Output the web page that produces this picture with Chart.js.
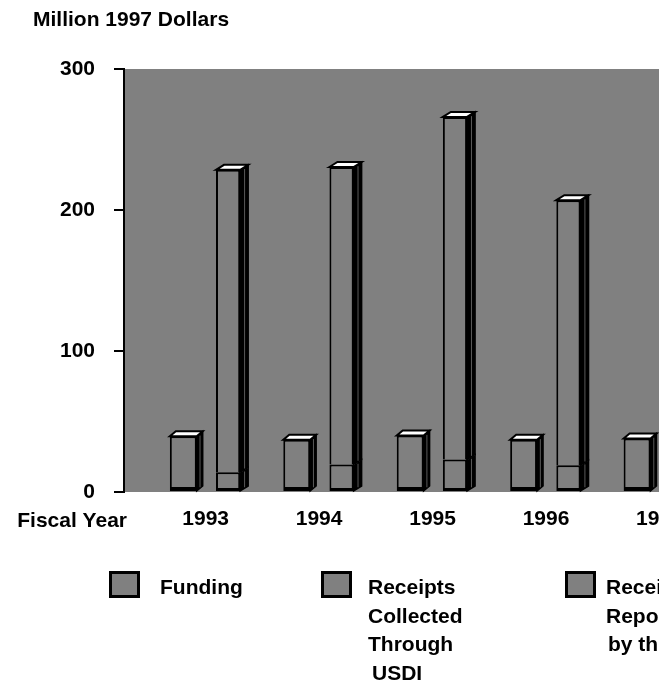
<!DOCTYPE html>
<html>
<head>
<meta charset="utf-8">
<title>Funding and Receipts</title>
<script src="https://cdn.jsdelivr.net/npm/chart.js@4/dist/chart.umd.min.js"></script>
<style>
  html, body { margin: 0; padding: 0; width: 659px; height: 692px; overflow: hidden; background: #ffffff; }
  #wrap { position: relative; width: 760px; height: 692px; }
  canvas { display: block; }
</style>
</head>
<body>
<div id="wrap"><canvas id="chart" width="760" height="692"></canvas></div>
<script>
// Fiscal years on the horizontal axis and their printed labels
const fiscalYears = [1993, 1994, 1995, 1996, 1997];
const yearLabels = ['1993', '1994', '1995', '1996', '1997'];

// Million 1997 dollars
const funding = [39.5, 37, 40, 37, 38];
const receiptsUSDI = [14, 19.5, 23, 19, null];
const receiptsReported = [214.5, 211, 243, 188, null];

// Vertical axis ticks
const valueTicks = [0, 100, 200, 300];

// Series names, one entry per legend line
const fundingLabel = ['Funding'];
const usdiLabel = ['Receipts', 'Collected', 'Through', 'USDI'];
const reportedLabel = ['Receipts', 'Reported', 'by the States'];

const titleText = 'Million 1997 Dollars';
const xAxisName = 'Fiscal Year';

const FONT = '"Liberation Sans", Arial, Helvetica, sans-serif';
const PLOT_GRAY = '#808080';

// Gray plotting field behind the bars
const plotBackground = {
  id: 'plotBackground',
  beforeDraw(chart) {
    const { ctx, chartArea: a } = chart;
    ctx.save();
    ctx.fillStyle = PLOT_GRAY;
    ctx.fillRect(a.left, a.top, a.right - a.left, a.bottom - a.top);
    ctx.restore();
  }
};

// Pseudo-3D boxes: a dark right side and a white lid on every column
const barDepth = {
  id: 'barDepth',
  afterDatasetsDraw(chart, args, opts) {
    const ctx = chart.ctx;
    const dy = opts.dy;
    const metas = chart.getSortedVisibleDatasetMetas();
    ctx.save();
    ctx.lineJoin = 'miter';
    metas.forEach(meta => {
      const ds = chart.data.datasets[meta.index];
      const dx = opts.dx[meta.stack] || 7;
      meta.data.forEach((bar, i) => {
        if (ds.data[i] == null) return;
        const { x, y, base, width } = bar.getProps(['x', 'y', 'base', 'width'], true);
        const l = x - width / 2, r = x + width / 2;
        const isTop = !metas.some(m => m.stack === meta.stack && m.index > meta.index &&
          chart.data.datasets[m.index].data[i] != null);

        // right-hand side face
        ctx.beginPath();
        ctx.moveTo(r, y);
        ctx.lineTo(r + dx, y - dy);
        ctx.lineTo(r + dx, base - dy);
        ctx.lineTo(r, base);
        ctx.closePath();
        ctx.fillStyle = '#000000';
        ctx.fill();
        ctx.lineWidth = 1.5;
        ctx.strokeStyle = '#000000';
        ctx.stroke();

        // faint edge running down the side face
        ctx.beginPath();
        ctx.moveTo(r + dx * 0.55, y - dy * 0.55 + 2);
        ctx.lineTo(r + dx * 0.55, base - dy * 0.55 - 1);
        ctx.lineWidth = 1;
        ctx.strokeStyle = '#5a5a5a';
        ctx.stroke();

        if (isTop) {
          // white lid
          ctx.beginPath();
          ctx.moveTo(l, y);
          ctx.lineTo(l + dx, y - dy);
          ctx.lineTo(r + dx, y - dy);
          ctx.lineTo(r, y);
          ctx.closePath();
          ctx.fillStyle = '#ffffff';
          ctx.fill();
          ctx.lineWidth = 2;
          ctx.strokeStyle = '#000000';
          ctx.stroke();
        } else {
          // seam between stacked segments on the side face
          ctx.beginPath();
          ctx.moveTo(r, y);
          ctx.lineTo(r + dx, y - dy);
          ctx.lineWidth = 1;
          ctx.strokeStyle = '#9a9a9a';
          ctx.stroke();
        }
      });
    });
    ctx.restore();
  }
};

// Title, axis name and the multi-line legend
const annotations = {
  id: 'annotations',
  afterDraw(chart, args, opts) {
    const ctx = chart.ctx;
    ctx.save();
    ctx.fillStyle = '#000000';
    ctx.font = 'bold 21px ' + FONT;
    ctx.textBaseline = 'alphabetic';

    ctx.textAlign = 'left';
    ctx.fillText(opts.title, 33, 26);

    ctx.textAlign = 'right';
    ctx.fillText(opts.axisName, 127, 527);

    ctx.textAlign = 'left';
    chart.data.datasets.forEach((ds, k) => {
      const item = opts.items[k];
      ctx.fillStyle = PLOT_GRAY;
      ctx.fillRect(item.boxX, 571, 31, 27);
      ctx.lineWidth = 3;
      ctx.strokeStyle = '#000000';
      ctx.strokeRect(item.boxX + 1.5, 572.5, 28, 24);
      ctx.fillStyle = '#000000';
      ds.label.forEach((line, j) => {
        const shift = item.indent && j === ds.label.length - 1 ? item.indent : 0;
        ctx.fillText(line, item.textX + shift, 594 + j * 28.7);
      });
    });
    ctx.restore();
  }
};

const XMIN = 1992.28;
const XMAX = 1997.71;

new Chart(document.getElementById('chart'), {
  type: 'bar',
  data: {
    labels: fiscalYears,
    datasets: [
      {
        label: fundingLabel,
        data: funding,
        stack: 'funding',
        backgroundColor: PLOT_GRAY,
        borderColor: '#000000',
        borderWidth: { top: 2, left: 2, right: 2, bottom: 4 },
        borderSkipped: false,
        barPercentage: 0.6
      },
      {
        label: usdiLabel,
        data: receiptsUSDI,
        stack: 'receipts',
        backgroundColor: PLOT_GRAY,
        borderColor: '#000000',
        borderWidth: { top: 2, left: 2, right: 2, bottom: 3 },
        borderSkipped: false,
        barPercentage: 0.54
      },
      {
        label: reportedLabel,
        data: receiptsReported,
        stack: 'receipts',
        backgroundColor: PLOT_GRAY,
        borderColor: '#000000',
        borderWidth: 2,
        borderSkipped: 'start',
        barPercentage: 0.54
      }
    ]
  },
  options: {
    responsive: false,
    animation: false,
    devicePixelRatio: 1,
    categoryPercentage: 0.79,
    layout: { padding: { left: 0, top: 69, right: 20, bottom: 0 } },
    plugins: {
      legend: { display: false },
      tooltip: { enabled: false },
      title: { display: false },
      barDepth: { dx: { funding: 6, receipts: 8 }, dy: 5 },
      annotations: {
        title: titleText,
        axisName: xAxisName,
        items: [
          { boxX: 109, textX: 160 },
          { boxX: 321, textX: 368, indent: 4 },
          { boxX: 565, textX: 606, indent: 2 }
        ]
      }
    },
    scales: {
      x: {
        type: 'linear',
        min: XMIN,
        max: XMAX,
        bounds: 'data',
        offset: false,
        stacked: true,
        grid: { display: false, drawTicks: false },
        border: { display: false },
        afterBuildTicks: scale => { scale.ticks = fiscalYears.map(v => ({ value: v })); },
        afterFit: scale => { scale.height = 200; },
        ticks: {
          autoSkip: false,
          maxRotation: 0,
          minRotation: 0,
          padding: 15,
          color: '#000000',
          font: { family: FONT, size: 21, weight: 'bold' },
          callback: (value, index) => yearLabels[index]
        }
      },
      y: {
        min: 0,
        max: 300,
        stacked: true,
        bounds: 'data',
        grid: {
          display: true,
          drawOnChartArea: false,
          drawTicks: true,
          tickLength: 10,
          color: '#000000',
          lineWidth: 2
        },
        border: { display: true, color: '#000000', width: 2 },
        afterBuildTicks: scale => { scale.ticks = valueTicks.map(v => ({ value: v })); },
        afterFit: scale => { scale.width = 124; },
        ticks: {
          padding: 19,
          color: '#000000',
          font: { family: FONT, size: 21, weight: 'bold' },
          callback: value => String(value)
        }
      }
    }
  },
  plugins: [plotBackground, barDepth, annotations]
});
</script>
</body>
</html>
